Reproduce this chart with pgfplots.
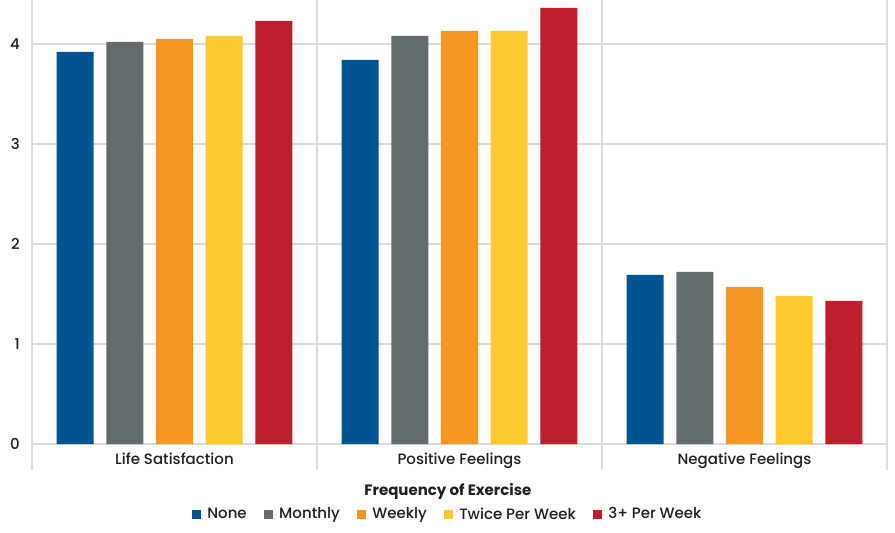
\documentclass[border=0pt]{standalone}
\usepackage{pgfplots}
\pgfplotsset{compat=1.18}
\usepackage{fontspec}
\setmainfont{Poppins}[UprightFont=* Medium, BoldFont=* Bold]
\definecolor{cNone}{HTML}{00548F}
\definecolor{cMonthly}{HTML}{646B6E}
\definecolor{cWeekly}{HTML}{F79723}
\definecolor{cTwice}{HTML}{FEC92E}
\definecolor{cThree}{HTML}{BE1E2D}
\definecolor{gridc}{HTML}{DCDCDC}
\definecolor{txt}{HTML}{231F20}
\begin{document}
\begin{tikzpicture}
\fontsize{15}{17}\selectfont
\begin{axis}[
  scale only axis,
  width=855pt, height=444pt,
  xmin=-0.5, xmax=2.5, ymin=0, ymax=4.44,
  ybar, bar width=0.13,
  axis line style={draw=none},
  xtick={-0.5,0.5,1.5,2.5}, xticklabels={},
  xmajorgrids, ymajorgrids,
  grid style={gridc, line width=1.2pt},
  xtick pos=lower, tick align=outside,
  x tick style={gridc, line width=1.2pt},
  major tick length=26pt,
  extra x ticks={0,1,2},
  extra x tick labels={Life Satisfaction, Positive Feelings, Negative Feelings},
  extra x tick style={major tick length=0pt, grid=none,
     xticklabel style={yshift=-4pt}},
  ytick={0,1,2,3,4}, ytick style={draw=none},
  yticklabel style={xshift=19pt},
  /pgf/number format/assume math mode=true,
  ticklabel style={font=\fontsize{15}{17}\selectfont, text=txt},
  legend style={at={(0.4865,-0.1588)}, anchor=center, draw=none,
     legend columns=-1, font=\fontsize{15}{17}\selectfont, text=txt,
     /tikz/every even column/.append style={column sep=15.5pt},
     inner sep=0pt},
  legend image code/.code={\fill[#1] (0pt,-4.5pt) rectangle (9pt,4.5pt); \path (0pt,0pt) -- (13pt,0pt);},
  clip=false,
]
\addplot[fill=cNone, draw=none, bar shift=-0.3488] coordinates {(0,3.92) (1,3.84) (2,1.69)};
\addplot[fill=cMonthly, draw=none, bar shift=-0.1744] coordinates {(0,4.02) (1,4.08) (2,1.72)};
\addplot[fill=cWeekly, draw=none, bar shift=0] coordinates {(0,4.05) (1,4.13) (2,1.57)};
\addplot[fill=cTwice, draw=none, bar shift=0.1744] coordinates {(0,4.08) (1,4.13) (2,1.48)};
\addplot[fill=cThree, draw=none, bar shift=0.3488] coordinates {(0,4.23) (1,4.36) (2,1.43)};
\legend{None, Monthly, Weekly, Twice Per Week, 3+ Per Week}
\coordinate (O) at (rel axis cs:0,0);
\node[anchor=base, text=txt, font=\fontsize{15}{17}\selectfont\bfseries] at ([yshift=-51.7pt]rel axis cs:0.4865,0) {Frequency of Exercise};
\end{axis}
\pgfresetboundingbox
\path (O) ++(-32pt,-89pt) rectangle ++(895pt,533pt);
\end{tikzpicture}
\end{document}
